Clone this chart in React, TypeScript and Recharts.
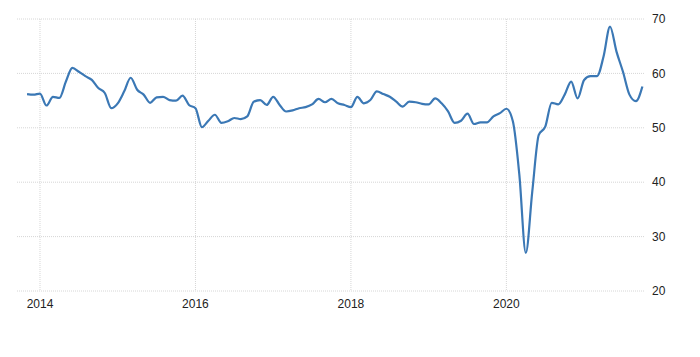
import React from "react"
import { LineChart, Line, XAxis, YAxis, CartesianGrid } from "recharts"

// months counted from Jan 2014 (0); series runs Nov 2013 .. Oct 2021
const startMonth = -2

const values = [
  56.2, 56.1, // 2013
  56.3, 54.1, 55.7, 55.5, 58.5, 61.0, 60.3, 59.5, 58.8, 57.3, 56.4, 53.6, // 2014
  54.5, 56.7, 59.2, 57.0, 56.1, 54.6, 55.6, 55.7, 55.1, 55.0, 55.9, 54.2, // 2015
  53.6, 50.1, 51.3, 52.4, 50.9, 51.2, 51.8, 51.6, 52.1, 54.8, 55.1, 54.2, // 2016
  55.7, 54.2, 53.0, 53.2, 53.6, 53.8, 54.3, 55.3, 54.7, 55.3, 54.5, 54.2, // 2017
  53.8, 55.7, 54.5, 55.1, 56.7, 56.2, 55.7, 54.8, 53.9, 54.8, 54.7, 54.4, // 2018
  54.3, 55.4, 54.5, 53.0, 50.9, 51.3, 52.6, 50.7, 51.0, 51.0, 52.1, 52.7, // 2019
  53.5, 51.2, 41.4, 27.0, 38.3, 48.7, 50.2, 54.6, 54.3, 56.1, 58.5, 55.4, // 2020
  58.8, 59.5, 59.5, 63.1, 68.6, 64.0, 60.3, 56.1, 54.9, 57.6, // 2021
]

const yearTicks = [0, 24, 48, 72]
const yearLabels = ["2014", "2016", "2018", "2020"]
const valueTicks = [20, 30, 40, 50, 60, 70]
const xDomain = [-3.55, 93.4]

const data = values.map((v, i) => ({ m: startMonth + i, value: v }))

const tickStyle = { fontSize: 12, fill: "#222", fontFamily: "'Liberation Sans', Arial, sans-serif" }

// vertical grid only at the year ticks
const yearLines = (props: any) => {
  const scale = props?.xAxis?.scale
  if (typeof scale === "function") return yearTicks.map((t) => scale(t))
  const o = props.offset
  return yearTicks.map((t) => o.left + (o.width * (t - xDomain[0])) / (xDomain[1] - xDomain[0]))
}

export default function App() {
  return (
    <div style={{ position: "absolute", left: 0, top: 0, background: "#fff" }}>
      <LineChart
        width={700}
        height={357}
        data={data}
        margin={{ top: 19, right: 0, left: 17, bottom: 0 }}
      >
        <CartesianGrid stroke="#d6d6d6" strokeDasharray="1 1" verticalCoordinatesGenerator={yearLines} />
        <XAxis
          dataKey="m"
          type="number"
          domain={xDomain}
          ticks={yearTicks}
          tickFormatter={(t: number) => yearLabels[yearTicks.indexOf(t)]}
          axisLine={false}
          tickLine={false}
          tickSize={0}
          tickMargin={8}
          tick={tickStyle}
          height={66}
        />
        <YAxis
          orientation="right"
          type="number"
          domain={[20, 70]}
          ticks={valueTicks}
          axisLine={false}
          tickLine={false}
          tickSize={0}
          tickMargin={7}
          tick={tickStyle}
          width={55}
        />
        <Line
          type="monotone"
          dataKey="value"
          stroke="#3b78b5"
          strokeWidth={2.2}
          dot={false}
          isAnimationActive={false}
        />
      </LineChart>
    </div>
  )
}
